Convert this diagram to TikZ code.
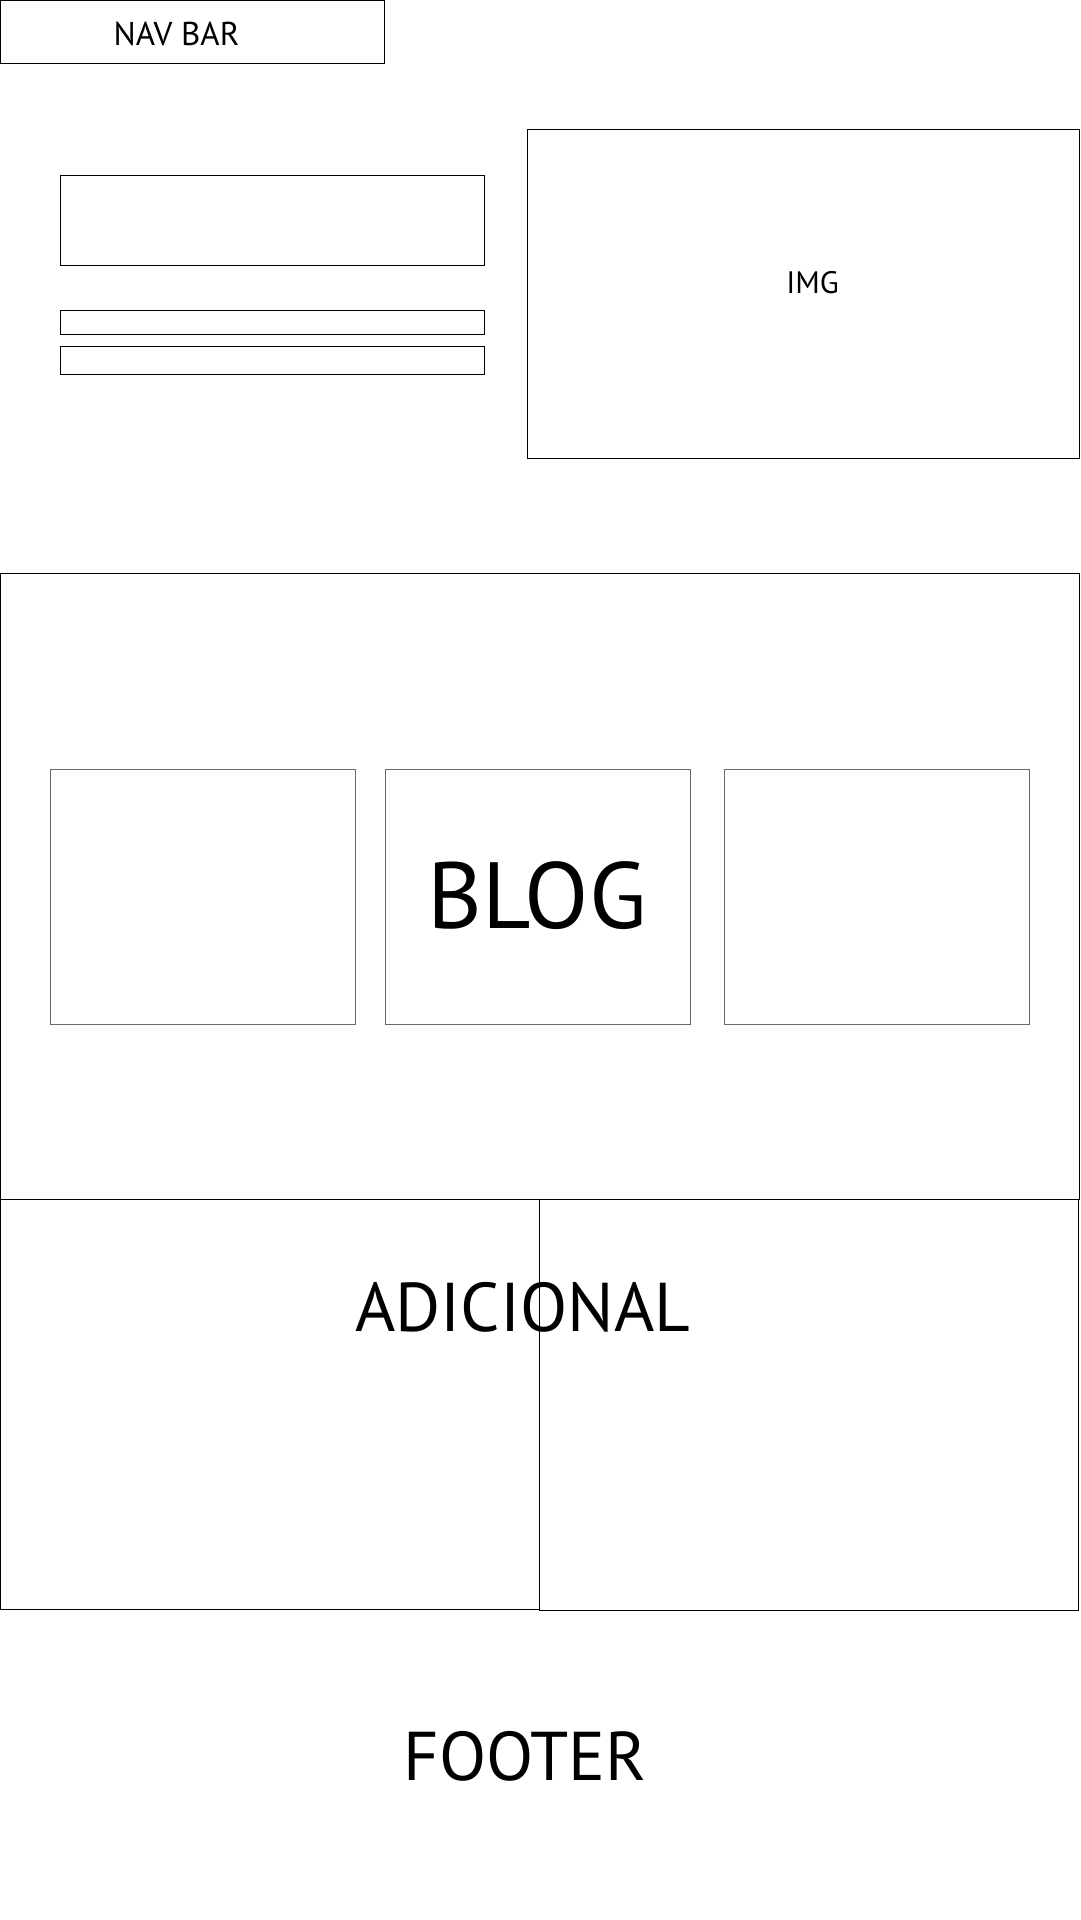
\documentclass[tikz,border=0pt]{standalone}
\usepackage{fontspec}
\setmainfont{PT Sans}
\usetikzlibrary{positioning}
\definecolor{wireink}{HTML}{000000}
\definecolor{wiregrey}{HTML}{6A6A6A}

\begin{document}
\begin{tikzpicture}[x=1pt,y=-1pt,
    wirebox/.style={draw=wireink, line width=1pt},
    cardbox/.style={draw=wiregrey, line width=1pt},
    wiretext/.style={inner sep=0pt, text=wireink}]
  \useasboundingbox (0,0) rectangle (1080,1920);

  % nav bar
  \draw[wirebox] (0.5,0.5) rectangle (384,63);
  \node[wiretext, font=\fontsize{33}{40}\selectfont] (navbar) at (176.5,34) {NAV BAR};

  % hero: heading block and two text lines, image on the right
  \draw[wirebox] (60,175) rectangle (484.5,265);
  \draw[wirebox] (60,310) rectangle (484.5,334);
  \draw[wirebox] (60,346.5) rectangle (484.5,374);
  \draw[wirebox] (527,129) rectangle (1079,458);
  \node[wiretext, font=\fontsize{31}{38}\selectfont] (img) at (812.5,282.5) {IMG};

  % blog section with three cards
  \draw[wirebox] (0.5,573.5) rectangle (1079,1199);
  \foreach \x in {50,385,724}
    \draw[cardbox] (\x,769) rectangle ++(305.5,255);
  \node[wiretext, font=\fontsize{94}{110}\selectfont] (blog) at (537,896) {BLOG};

  % adicional: two halves
  \draw[wirebox, line width=0.8pt] (0.5,1199) rectangle (539.5,1609);
  \draw[wirebox, line width=0.8pt] (539.5,1199.5) rectangle (1078,1610.5);
  \node[wiretext, font=\fontsize{69}{82}\selectfont] (adicional) at (522.7,1307.5) {ADICIONAL};

  % footer
  \node[wiretext, font=\fontsize{69}{82}\selectfont] (footer) at (525,1756.5) {FOOTER};
\end{tikzpicture}
\end{document}
